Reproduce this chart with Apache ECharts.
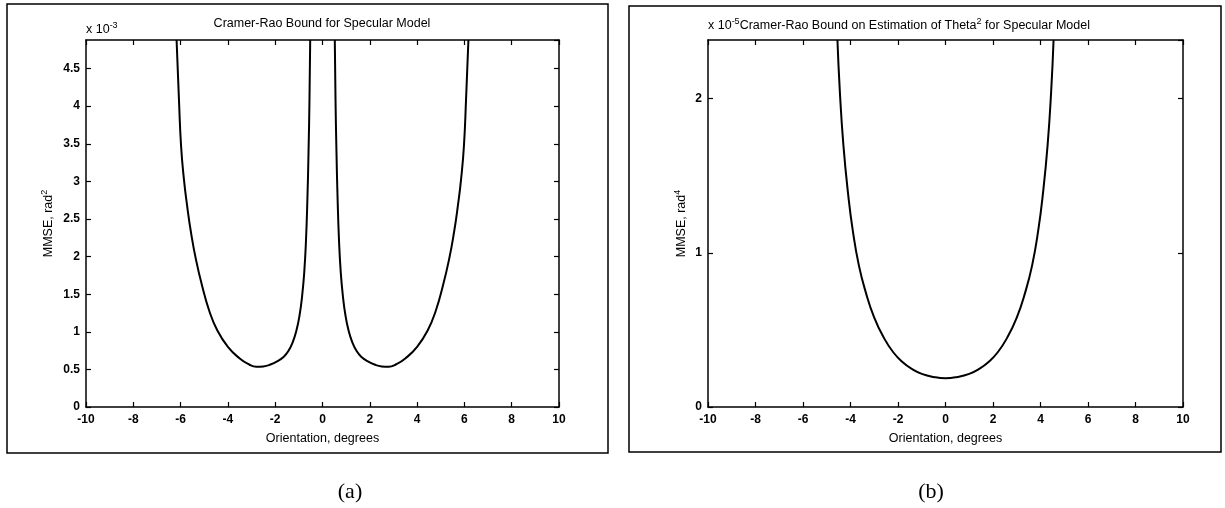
<!DOCTYPE html>
<html>
<head>
<meta charset="utf-8">
<script src="https://cdn.jsdelivr.net/npm/echarts@6/dist/echarts.min.js"></script>
<style>
  html, body { margin: 0; padding: 0; background: #fff; }
  #main { width: 1225px; height: 508px; }
</style>
</head>
<body>
<div id="main"></div>
<script>
// panel (a): MMSE in units of 1e-3 rad^2, two branches
const aBranch1X = [-6.17, -6.07, -5.98, -5.86, -5.73, -5.56, -5.35, -5.08, -4.8, -4.45, -4.0, -3.5, -3.1, -2.8, -2.5, -2.2, -1.9, -1.65, -1.45, -1.25, -1.1, -0.97, -0.86, -0.77, -0.7, -0.64, -0.59, -0.55, -0.52];
const aBranch1Y = [4.88, 4.09, 3.47, 3.03, 2.69, 2.32, 1.96, 1.6, 1.29, 1.02, 0.8, 0.645, 0.565, 0.535, 0.54, 0.565, 0.61, 0.665, 0.74, 0.87, 1.02, 1.22, 1.48, 1.8, 2.2, 2.75, 3.4, 4.1, 4.88];
const aBranch2X = [0.52, 0.55, 0.59, 0.64, 0.7, 0.77, 0.86, 0.97, 1.1, 1.25, 1.45, 1.65, 1.9, 2.2, 2.5, 2.8, 3.1, 3.5, 4.0, 4.45, 4.8, 5.08, 5.35, 5.56, 5.73, 5.86, 5.98, 6.07, 6.17];
const aBranch2Y = [4.88, 4.1, 3.4, 2.75, 2.2, 1.8, 1.48, 1.22, 1.02, 0.87, 0.74, 0.665, 0.61, 0.565, 0.54, 0.535, 0.565, 0.645, 0.8, 1.02, 1.29, 1.6, 1.96, 2.32, 2.69, 3.03, 3.47, 4.09, 4.88];

// panel (b): MMSE in units of 1e-5 rad^4
const bX = [-4.55, -4.45, -4.3, -4.1, -3.9, -3.65, -3.35, -3.0, -2.6, -2.2, -1.8, -1.4, -1.0, -0.5, 0, 0.5, 1.0, 1.4, 1.8, 2.2, 2.6, 3.0, 3.35, 3.65, 3.9, 4.1, 4.3, 4.45, 4.55];
const bY = [2.38, 2.05, 1.7, 1.38, 1.14, 0.92, 0.74, 0.58, 0.45, 0.355, 0.29, 0.245, 0.215, 0.195, 0.187, 0.195, 0.215, 0.245, 0.29, 0.355, 0.45, 0.58, 0.74, 0.92, 1.14, 1.38, 1.7, 2.05, 2.38];

const xTickStep = 2;
const aYMax = 4.88, aYStep = 0.5;
const bYMax = 2.38, bYStep = 1;

function pairs(xs, ys) {
  return xs.map((x, i) => [x, ys[i]]);
}

const fontSans = 'Liberation Sans';
const lineCol = '#000';

function xAxisOf(grid, pos, withLabel) {
  return {
    type: 'value', gridIndex: grid, position: pos,
    min: -10, max: 10, interval: xTickStep,
    axisLine: { show: true, onZero: false, lineStyle: { color: lineCol, width: 1.5 } },
    axisTick: { show: true, inside: true, length: 5, lineStyle: { color: lineCol, width: 1.2 } },
    axisLabel: { show: withLabel, color: '#000', fontFamily: fontSans, fontWeight: 'bold', fontSize: 12, margin: 7 },
    splitLine: { show: false },
    name: withLabel ? 'Orientation, degrees' : '',
    nameLocation: 'middle', nameGap: 25,
    nameTextStyle: { color: '#000', fontFamily: fontSans, fontSize: 12.5 }
  };
}

function yAxisOf(grid, pos, max, step, name, gap) {
  const withLabel = pos === 'left';
  return {
    type: 'value', gridIndex: grid, position: pos,
    min: 0, max: max, interval: step,
    axisLine: { show: true, onZero: false, lineStyle: { color: lineCol, width: 1.5 } },
    axisTick: { show: true, inside: true, length: 5, lineStyle: { color: lineCol, width: 1.2 } },
    axisLabel: { show: withLabel, showMaxLabel: false, color: '#000', fontFamily: fontSans, fontWeight: 'bold', fontSize: 12, margin: 6 },
    splitLine: { show: false },
    name: withLabel ? name : '',
    nameLocation: 'middle', nameGap: gap, nameRotate: 90,
    nameTextStyle: {
      color: '#000', fontFamily: fontSans, fontSize: 12.5,
      rich: {
        n: { fontFamily: fontSans, fontSize: 12.5, color: '#000' },
        s: { fontFamily: fontSans, fontSize: 9, color: '#000', padding: [0, 0, 8, 0] }
      }
    }
  };
}

const lineSeries = (xi, yi, data) => ({
  type: 'line', xAxisIndex: xi, yAxisIndex: yi, data: data,
  showSymbol: false, smooth: 0.5,
  lineStyle: { color: '#000', width: 2 }, clip: true
});

const richTitle = {
  t: { fontFamily: fontSans, fontSize: 12.5, fontWeight: 'normal', color: '#000' },
  s: { fontFamily: fontSans, fontSize: 9, fontWeight: 'normal', color: '#000', padding: [0, 0, 8, 0] }
};

let myChart = echarts.init(document.getElementById('main'));
let option = {
  backgroundColor: '#fff',
  animation: false,
  title: [
    { text: '{t|Cramer-Rao Bound for Specular Model}', left: 322, top: 17, textAlign: 'center', padding: 0,
      textStyle: { fontWeight: 'normal', rich: richTitle } },
    { text: '{t|x 10}{s|-3}', left: 86, top: 21, padding: 0, textStyle: { fontWeight: 'normal', rich: richTitle } },
    { text: '{t|x 10}{s|-5}{t|Cramer-Rao Bound on Estimation of Theta}{s|2}{t| for Specular Model}', left: 708, top: 17, padding: 0,
      textStyle: { fontWeight: 'normal', rich: richTitle } }
  ],
  grid: [
    { left: 86, top: 40, width: 473, height: 367, outerBoundsMode: 'none' },
    { left: 708, top: 40, width: 475, height: 367, outerBoundsMode: 'none' }
  ],
  xAxis: [
    xAxisOf(0, 'bottom', true),
    xAxisOf(0, 'top', false),
    xAxisOf(1, 'bottom', true),
    xAxisOf(1, 'top', false)
  ],
  yAxis: [
    yAxisOf(0, 'left', aYMax, aYStep, '{n|MMSE, rad}{s|2}', 29),
    yAxisOf(0, 'right', aYMax, aYStep, '', 0),
    yAxisOf(1, 'left', bYMax, bYStep, '{n|MMSE, rad}{s|4}', 18),
    yAxisOf(1, 'right', bYMax, bYStep, '', 0)
  ],
  series: [
    lineSeries(0, 0, pairs(aBranch1X, aBranch1Y)),
    lineSeries(0, 0, pairs(aBranch2X, aBranch2Y)),
    lineSeries(2, 2, pairs(bX, bY))
  ],
  graphic: [
    { type: 'rect', shape: { x: 7, y: 4, width: 601, height: 449 }, style: { fill: 'none', stroke: '#000', lineWidth: 1.5 } },
    { type: 'rect', shape: { x: 629, y: 6, width: 592, height: 446 }, style: { fill: 'none', stroke: '#000', lineWidth: 1.5 } },
    { type: 'text', x: 350, y: 492, style: { text: '(a)', fontFamily: 'Liberation Serif', fontSize: 22, fill: '#000', textAlign: 'center', textVerticalAlign: 'middle' } },
    { type: 'text', x: 931, y: 492, style: { text: '(b)', fontFamily: 'Liberation Serif', fontSize: 22, fill: '#000', textAlign: 'center', textVerticalAlign: 'middle' } }
  ]
};
myChart.setOption(option);
</script>
</body>
</html>
